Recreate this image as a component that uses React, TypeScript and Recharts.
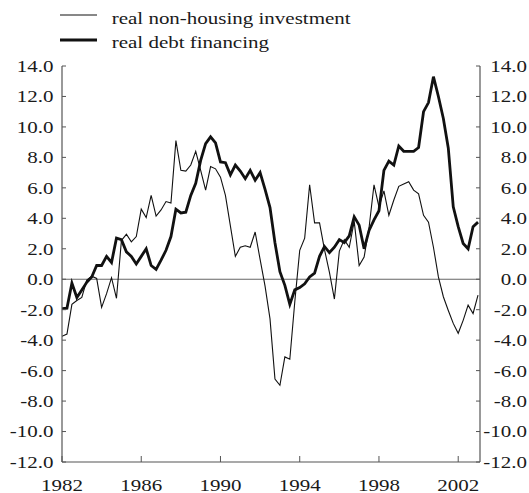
import React from 'react';
import { LineChart, Line, XAxis, YAxis, ReferenceLine } from 'recharts';

const startYear = 1982;

// real non-housing investment (quarterly, %)
const investment = [
  -3.75, -3.6, -1.65, -1.4, -1.2, -0.05, 0.2, 0.05, -1.85, -0.95,
  0.1, -1.25, 2.55, 2.95, 2.45, 2.8, 4.6, 4.05, 5.5, 4.15,
  4.55, 5.1, 5.0, 9.1, 7.15, 7.1, 7.5, 8.4, 7.15, 5.85,
  7.4, 7.25, 6.7, 5.5, 3.5, 1.5, 2.1, 2.2, 2.1, 3.1,
  1.3, -0.45, -2.6, -6.55, -6.96, -5.1, -5.25, -1.5, 1.9, 2.7,
  6.2, 3.7, 3.7, 1.95, 0.45, -1.3, 1.85, 2.6, 2.1, 3.8,
  0.9, 1.45, 3.4, 6.2, 4.75, 5.8, 4.2, 5.2, 6.1, 6.25,
  6.4, 5.85, 5.6, 4.2, 3.75, 2.1, 0.15, -1.15, -2.05, -2.9,
  -3.55, -2.7, -1.7, -2.25, -1.05,
];

// real debt financing (quarterly, %)
const debtFinancing = [
  -1.93, -1.9, -0.25, -1.2, -0.7, -0.2, 0.15, 0.9, 0.9, 1.5,
  1.1, 2.7, 2.6, 1.8, 1.5, 1.0, 1.5, 2.0, 0.9, 0.65,
  1.25, 1.9, 2.8, 4.6, 4.35, 4.4, 5.5, 6.3, 7.8, 8.9,
  9.35, 8.95, 7.7, 7.65, 6.85, 7.5, 7.1, 6.6, 7.15, 6.5,
  7.0, 5.9, 4.7, 2.4, 0.5, -0.4, -1.65, -0.7, -0.55, -0.3,
  0.15, 0.4, 1.5, 2.15, 1.75, 2.1, 2.6, 2.4, 2.85, 4.1,
  3.55, 2.0, 3.2, 3.9, 4.5, 7.15, 7.75, 7.5, 8.75, 8.4,
  8.4, 8.4, 8.65, 11.0, 11.6, 13.3, 12.0, 10.55, 8.6, 4.75,
  3.45, 2.35, 2.0, 3.45, 3.75,
];

const seriesNames = ['real non-housing investment', 'real debt financing'];
const xTickYears = [1982, 1986, 1990, 1994, 1998, 2002];
const yTicks = [-12, -10, -8, -6, -4, -2, 0, 2, 4, 6, 8, 10, 12, 14];

const data = investment.map((v, i) => ({
  t: startYear + i / 4,
  investment: v,
  debt: debtFinancing[i],
}));

const FONT = '"Liberation Serif", "Times New Roman", Times, serif';
const AXIS = '#555';
const TEXT = '#1a1a1a';
const SX = 1.2;
const FS = 17.5;

const W = 529;
const H = 493;

function LeftTick(props: any) {
  const { x, y, payload } = props;
  return (
    <g>
      <line x1={x} y1={y} x2={x + 4} y2={y} stroke={AXIS} strokeWidth={1} />
      <text
        transform={`translate(${x - 8.5},${y}) scale(${SX},1)`}
        textAnchor="end"
        dy="0.34em"
        fontFamily={FONT}
        fontSize={FS}
        fill={TEXT}
      >
        {Number(payload.value).toFixed(1)}
      </text>
    </g>
  );
}

function RightTick(props: any) {
  const { x, y, payload } = props;
  return (
    <g>
      <line x1={x} y1={y} x2={x - 4} y2={y} stroke={AXIS} strokeWidth={1} />
      <text
        transform={`translate(${x + 47},${y}) scale(${SX},1)`}
        textAnchor="end"
        dy="0.34em"
        fontFamily={FONT}
        fontSize={FS}
        fill={TEXT}
      >
        {Number(payload.value).toFixed(1)}
      </text>
    </g>
  );
}

function BottomTick(props: any) {
  const { x, y, payload } = props;
  return (
    <g>
      <line x1={x} y1={y} x2={x} y2={y - 6} stroke={AXIS} strokeWidth={1} />
      <text
        transform={`translate(${x},${y + 28.5}) scale(${SX},1)`}
        textAnchor="middle"
        fontFamily={FONT}
        fontSize={FS}
        fill={TEXT}
      >
        {String(payload.value)}
      </text>
    </g>
  );
}

function LegendOverlay() {
  const widths = [1, 2.8];
  const lineYs = [15, 40];
  const textYs = [23.5, 48];
  return (
    <svg
      width={W}
      height={60}
      style={{ position: 'absolute', top: 0, left: 0, pointerEvents: 'none' }}
    >
      {seriesNames.map((name, i) => (
        <g key={name}>
          <line x1={60} y1={lineYs[i]} x2={97} y2={lineYs[i]} stroke="#111" strokeWidth={widths[i]} />
          <text
            transform={`translate(111.7,${textYs[i]}) scale(${SX},1)`}
            fontFamily={FONT}
            fontSize={FS}
            fill={TEXT}
          >
            {name}
          </text>
        </g>
      ))}
    </svg>
  );
}

export default function App() {
  return (
    <div
      style={{
        position: 'absolute',
        top: 0,
        left: 0,
        width: W,
        height: H,
        overflow: 'hidden',
        background: '#fff',
      }}
    >
      <LineChart
        width={W}
        height={H}
        data={data}
        margin={{ top: 66, right: 0, bottom: 0, left: 0 }}
      >
        <XAxis
          dataKey="t"
          type="number"
          domain={[1982, 2003.1]}
          ticks={xTickYears}
          interval={0}
          allowDataOverflow
          height={31}
          tickSize={0}
          tickMargin={0}
          axisLine={{ stroke: AXIS, strokeWidth: 1.2 }}
          tickLine={false}
          tick={BottomTick}
        />
        <YAxis
          yAxisId="left"
          orientation="left"
          width={62}
          domain={[-12, 14]}
          ticks={yTicks}
          interval={0}
          allowDataOverflow
          tickSize={0}
          tickMargin={0}
          axisLine={{ stroke: AXIS, strokeWidth: 1.2 }}
          tickLine={false}
          tick={LeftTick}
        />
        <YAxis
          yAxisId="right"
          orientation="right"
          width={49}
          domain={[-12, 14]}
          ticks={yTicks}
          interval={0}
          allowDataOverflow
          tickSize={0}
          tickMargin={0}
          axisLine={{ stroke: AXIS, strokeWidth: 1.2 }}
          tickLine={false}
          tick={RightTick}
        />
        <ReferenceLine yAxisId="left" y={0} stroke="#666" strokeWidth={1.2} />
        <Line
          yAxisId="left"
          type="linear"
          dataKey="investment"
          name={seriesNames[0]}
          stroke="#111"
          strokeWidth={1.1}
          dot={false}
          activeDot={false}
          isAnimationActive={false}
        />
        <Line
          yAxisId="right"
          type="linear"
          dataKey="debt"
          name={seriesNames[1]}
          stroke="#111"
          strokeWidth={2.8}
          dot={false}
          activeDot={false}
          isAnimationActive={false}
        />
      </LineChart>
      <LegendOverlay />
    </div>
  );
}
